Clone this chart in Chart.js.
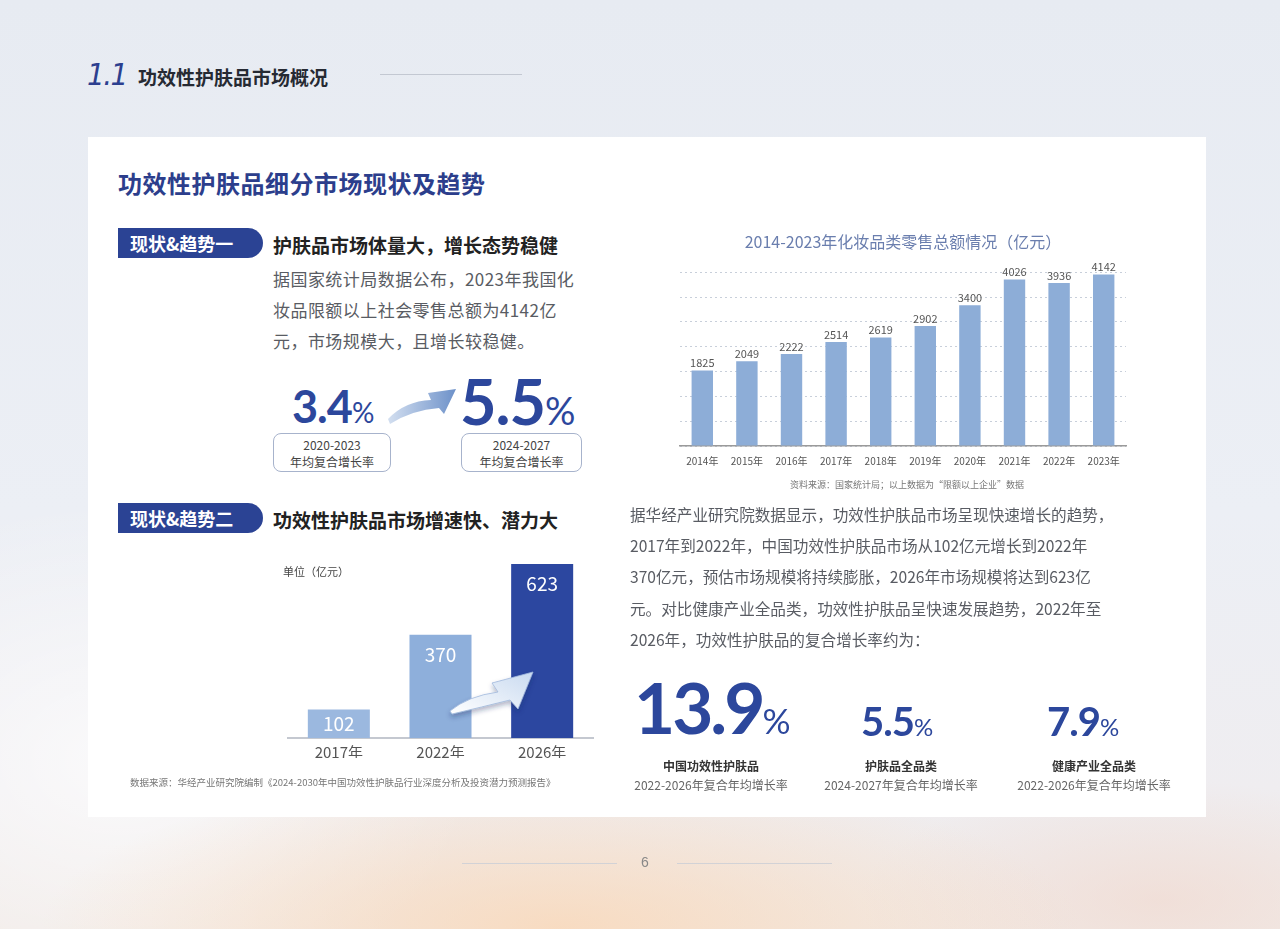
<!DOCTYPE html>
<html>
<head>
<meta charset="utf-8">
<script src="https://cdn.jsdelivr.net/npm/chart.js@4/dist/chart.umd.min.js"></script>
<style>
  html, body { margin: 0; padding: 0; }
  body {
    width: 1280px; height: 929px; position: relative; overflow: hidden;
    font-family: "Noto Sans CJK SC", "Noto Sans", sans-serif;
    background:
      radial-gradient(ellipse 520px 160px at 560px 929px, rgba(250,214,180,0.75), rgba(250,214,180,0) 100%),
      radial-gradient(ellipse 300px 120px at 1160px 900px, rgba(240,215,205,0.6), rgba(240,215,205,0) 100%),
      radial-gradient(ellipse 360px 260px at 120px 760px, rgba(255,255,255,0.7), rgba(255,255,255,0) 100%),
      linear-gradient(180deg, #e7ebf2 0%, #eceff5 55%, #efedf0 85%, #f1ebe8 100%);
  }
  .abs { position: absolute; white-space: nowrap; }
  .card { position: absolute; left: 88px; top: 137px; width: 1118px; height: 680px; background: #fff; }
  .sec-num { left: 87px; top: 56px; font-family: "Liberation Sans Narrow", "DejaVu Sans Condensed", sans-serif; font-style: italic; font-size: 31px; color: #2c3f8f; letter-spacing: -1.5px; }
  .sec-title { left: 138px; top: 63px; font-size: 19px; font-weight: 700; color: #262a33; }
  .hline { position: absolute; height: 1px; background: #c3c8d2; }
  .card-title { left: 118px; top: 165px; font-size: 24px; font-weight: 700; color: #2c3e8c; letter-spacing: 0.5px; }
  .badge { position: absolute; left: 118px; width: 145px; height: 30px; background: #2b4394; color: #fff;
           border-radius: 0 15px 15px 0; font-size: 18px; font-weight: 700; line-height: 30px; text-indent: 12px; }
  .head { left: 273px; font-size: 19px; font-weight: 700; color: #222; }
  .para { font-size: 17px; color: #595c63; line-height: 31px; letter-spacing: 0.45px; }
  .para2 { font-size: 15.6px; color: #595c63; line-height: 31.2px; }
  .num { font-family: Lato, "Noto Sans", sans-serif; font-weight: 700; color: #2c479c; line-height: 0.9; }
  .num small { font-weight: 400; }
  .box { position: absolute; border: 1px solid #a7b3cc; border-radius: 8px; text-align: center;
         font-size: 12px; line-height: 17px; color: #444; padding-top: 2px; box-sizing: border-box; }
  .lbl { text-align: center; width: 190px; font-size: 12px; line-height: 19px; color: #666; }
  .lbl b { color: #333; }
  .src { font-size: 9.5px; color: #777; }
</style>
</head>
<body>
<div class="abs sec-num">1.1</div>
<div class="abs sec-title">功效性护肤品市场概况</div>
<div class="hline" style="left:380px;top:74px;width:142px;"></div>

<div class="card"></div>

<div class="abs card-title">功效性护肤品细分市场现状及趋势</div>

<div class="badge" style="top:228px;">现状&amp;趋势一</div>
<div class="abs head" style="top:231px;">护肤品市场体量大，增长态势稳健</div>
<div class="abs para" style="left:273px;top:263px;">据国家统计局数据公布，2023年我国化<br>妆品限额以上社会零售总额为4142亿<br>元，市场规模大，且增长较稳健。</div>

<div class="abs num" style="left:292px;top:386px;font-size:45px;letter-spacing:-1px;">3.4<small style="font-size:28px;letter-spacing:0;">%</small></div>
<div class="abs num" style="left:460px;top:373px;font-size:63px;letter-spacing:-1px;">5.5<small style="font-size:38px;letter-spacing:0;">%</small></div>
<div class="box" style="left:273px;top:433px;width:118px;height:39px;">2020-2023<br>年均复合增长率</div>
<div class="box" style="left:461px;top:433px;width:121px;height:39px;">2024-2027<br>年均复合增长率</div>

<svg class="abs" style="left:0;top:0;" width="1280" height="929">
  <defs>
    <linearGradient id="g1" x1="0" y1="0" x2="1" y2="0">
      <stop offset="0" stop-color="#d3dff0"/>
      <stop offset="1" stop-color="#6d91c9"/>
    </linearGradient>
    <linearGradient id="g2" x1="0" y1="1" x2="1" y2="0">
      <stop offset="0" stop-color="#ffffff"/>
      <stop offset="1" stop-color="#c9daf0"/>
    </linearGradient>
    <filter id="sh" x="-20%" y="-20%" width="140%" height="160%">
      <feDropShadow dx="0" dy="3" stdDeviation="2.5" flood-color="#1c2d60" flood-opacity="0.35"/>
    </filter>
  </defs>
  <path d="M388,419 Q405,401 431,400 L428,393 L456,389 L444,414 L439,408 Q412,410 390,424 Z" fill="url(#g1)"/>
</svg>

<div class="badge" style="top:503px;">现状&amp;趋势二</div>
<div class="abs head" style="top:506px;">功效性护肤品市场增速快、潜力大</div>

<div class="abs" style="left:280px;top:560px;width:320px;height:201px;"><canvas id="market"></canvas></div>
<div class="abs" style="left:283px;top:563px;font-size:11px;color:#444;">单位（亿元）</div>
<svg class="abs" style="left:0;top:0;" width="1280" height="929">
  <path d="M450,711 Q468,696 498,692 L492,683 L533,672 L518,709 L510,700 Q482,707 452,714 Z"
        fill="url(#g2)" stroke="#9fb8dc" stroke-width="0.8" filter="url(#sh)"/>
</svg>
<div class="abs src" style="left:130px;top:775px;">数据来源：华经产业研究院编制《2024-2030年中国功效性护肤品行业深度分析及投资潜力预测报告》</div>

<div class="abs" style="left:662px;top:220px;width:480px;height:263px;"><canvas id="retail"></canvas></div>
<div class="abs src" style="left:790px;top:478px;font-size:9px;">资料来源：国家统计局；以上数据为“限额以上企业”数据</div>

<div class="abs para2" style="left:630px;top:499px;">据华经产业研究院数据显示，功效性护肤品市场呈现快速增长的趋势，<br>2017年到2022年，中国功效性护肤品市场从102亿元增长到2022年<br>370亿元，预估市场规模将持续膨胀，2026年市场规模将达到623亿<br>元。对比健康产业全品类，功效性护肤品呈快速发展趋势，2022年至<br>2026年，功效性护肤品的复合增长率约为：</div>

<div class="abs num" style="left:634px;top:675px;font-size:71px;letter-spacing:-3px;">13.9<small style="font-size:35px;letter-spacing:0;">%</small></div>
<div class="abs num" style="left:861px;top:703px;font-size:40px;letter-spacing:-1px;">5.5<small style="font-size:24px;letter-spacing:0;">%</small></div>
<div class="abs num" style="left:1047px;top:703px;font-size:40px;letter-spacing:-1px;">7.9<small style="font-size:24px;letter-spacing:0;">%</small></div>
<div class="abs lbl" style="left:616px;top:756px;"><b>中国功效性护肤品</b><br>2022-2026年复合年均增长率</div>
<div class="abs lbl" style="left:806px;top:756px;"><b>护肤品全品类</b><br>2024-2027年复合年均增长率</div>
<div class="abs lbl" style="left:999px;top:756px;"><b>健康产业全品类</b><br>2022-2026年复合年均增长率</div>

<div class="hline" style="left:462px;top:863px;width:155px;background:#d2d2d6;"></div>
<div class="hline" style="left:677px;top:863px;width:155px;background:#d2d2d6;"></div>
<div class="abs" style="left:641px;top:854px;font-size:14px;color:#888;font-family:'Liberation Sans',sans-serif;">6</div>

<script>
// 化妆品类零售总额（亿元）
const retailYears = ['2014年', '2015年', '2016年', '2017年', '2018年', '2019年', '2020年', '2021年', '2022年', '2023年']
const retailValues = [1825, 2049, 2222, 2514, 2619, 2902, 3400, 4026, 3936, 4142]

// 功效性护肤品市场规模（亿元）
const marketYears = ['2017年', '2022年', '2026年']
const marketValues = [102, 370, 623]

const cjk = '"Noto Sans CJK SC", "Noto Sans", sans-serif'

// 柱顶数值
const topLabels = {
  id: 'topLabels',
  afterDatasetsDraw(chart, args, opts) {
    const c = chart.ctx
    const meta = chart.getDatasetMeta(0)
    c.save()
    c.font = opts.font
    c.fillStyle = opts.color
    c.textAlign = 'center'
    meta.data.forEach((bar, i) => {
      const v = chart.data.datasets[0].data[i]
      if (opts.inside) {
        c.textBaseline = 'middle'
        const y = Math.min(bar.y + 20, (bar.y + bar.base) / 2)
        c.fillText(v, bar.x, y)
      } else {
        c.textBaseline = 'bottom'
        c.fillText(v, bar.x, bar.y - 2)
      }
    })
    c.restore()
  }
}

new Chart(document.getElementById('retail'), {
  type: 'bar',
  data: {
    labels: retailYears,
    datasets: [{
      data: retailValues,
      backgroundColor: '#8dadd7',
      barPercentage: 0.96,
      categoryPercentage: 0.5
    }]
  },
  options: {
    responsive: true,
    maintainAspectRatio: false,
    animation: false,
    layout: { padding: { left: 18, right: 16, top: 0, bottom: 15 } },
    plugins: {
      legend: { display: false },
      tooltip: { enabled: false },
      title: {
        display: true,
        text: '2014-2023年化妆品类零售总额情况（亿元）',
        color: '#6a7eae',
        font: { family: cjk, size: 16, weight: 'normal' },
        padding: { top: 12, bottom: 21 }
      },
      topLabels: { font: '11px ' + cjk, color: '#555' }
    },
    scales: {
      x: {
        grid: { display: false },
        border: { color: '#9a9a9a', width: 1.5 },
        ticks: { color: '#555', font: { family: cjk, size: 10 }, padding: 1, maxRotation: 0 }
      },
      y: {
        min: 0,
        max: 4200,
        ticks: { display: false, stepSize: 600 },
        border: { display: false, dash: [2, 3] },
        grid: { color: '#c8cfda', drawTicks: false, lineWidth: 1 }
      }
    }
  },
  plugins: [topLabels]
})

new Chart(document.getElementById('market'), {
  type: 'bar',
  data: {
    labels: marketYears,
    datasets: [{
      data: marketValues,
      backgroundColor: ['#9bb8df', '#8eafdb', '#2c47a0'],
      barPercentage: 0.61,
      categoryPercentage: 1
    }]
  },
  options: {
    responsive: true,
    maintainAspectRatio: false,
    animation: false,
    layout: { padding: { left: 8, right: 7, top: 4, bottom: 3 } },
    plugins: {
      legend: { display: false },
      tooltip: { enabled: false },
      topLabels: { font: '19px ' + cjk, color: '#ffffff', inside: true }
    },
    scales: {
      x: {
        grid: { display: false },
        border: { color: '#c4c8d0', width: 2 },
        ticks: { color: '#555', font: { family: cjk, size: 15 }, padding: -3 }
      },
      y: {
        display: false,
        min: 0,
        max: 623
      }
    }
  },
  plugins: [topLabels]
})
</script>
</body>
</html>
